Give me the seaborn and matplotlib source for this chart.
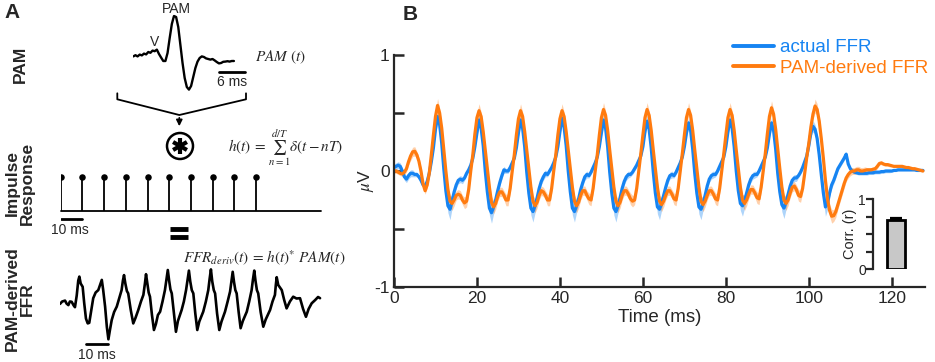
import matplotlib
matplotlib.use("Agg")
import matplotlib.pyplot as plt
import numpy as np
import pandas as pd
import seaborn as sns


FIG_W, FIG_H = 935, 362
BLUE = "#1684F2"
ORANGE = "#FF7B0F"

# ---------------- panel B data: grand-average FFRs (uV), every 0.5 ms ----------------
ffr_time_ms = np.arange(0, 128, 0.5)

actual_ffr = [
    0.03, 0.04, 0.05, 0.04, 0.00, -0.05, -0.07, -0.04, -0.02, -0.02, -0.03, -0.03, -0.05, -0.08, -0.12, -0.13, -0.09, -0.02, 0.08, 0.20,
    0.36, 0.47, 0.40, 0.24, 0.02, -0.17, -0.30, -0.33, -0.26, -0.18, -0.12, -0.08, -0.07, -0.08, -0.06, -0.02, 0.01, 0.05, 0.11, 0.21,
    0.33, 0.44, 0.37, 0.22, 0.00, -0.18, -0.32, -0.36, -0.31, -0.25, -0.17, -0.10, -0.04, 0.01, 0.00, 0.00, 0.03, 0.07, 0.11, 0.20,
    0.33, 0.44, 0.37, 0.21, -0.01, -0.19, -0.32, -0.35, -0.30, -0.23, -0.15, -0.09, -0.05, -0.02, -0.03, 0.00, 0.03, 0.07, 0.12, 0.21,
    0.34, 0.455, 0.38, 0.22, 0.00, -0.18, -0.32, -0.35, -0.30, -0.24, -0.16, -0.10, -0.05, -0.03, -0.04, -0.01, 0.03, 0.07, 0.12, 0.21,
    0.33, 0.44, 0.37, 0.21, -0.01, -0.19, -0.32, -0.35, -0.30, -0.23, -0.15, -0.09, -0.05, -0.03, -0.03, -0.01, 0.02, 0.05, 0.09, 0.13,
    0.21, 0.34, 0.43, 0.36, 0.20, -0.01, -0.19, -0.31, -0.33, -0.28, -0.21, -0.14, -0.08, -0.04, -0.03, -0.04, -0.01, 0.03, 0.07, 0.12,
    0.21, 0.33, 0.415, 0.35, 0.19, -0.02, -0.19, -0.31, -0.33, -0.28, -0.21, -0.13, -0.07, -0.04, -0.03, -0.03, 0.00, 0.04, 0.08, 0.12,
    0.21, 0.34, 0.44, 0.37, 0.21, 0.00, -0.17, -0.28, -0.30, -0.26, -0.19, -0.12, -0.07, -0.04, -0.03, -0.03, 0.00, 0.04, 0.08, 0.12,
    0.20, 0.32, 0.415, 0.35, 0.19, -0.02, -0.18, -0.29, -0.32, -0.27, -0.20, -0.13, -0.08, -0.06, -0.06, -0.04, -0.01, 0.03, 0.08, 0.13,
    0.22, 0.33, 0.385, 0.36, 0.28, 0.14, -0.03, -0.19, -0.31, -0.28, -0.19, -0.12, -0.08, -0.03, 0.02, 0.05, 0.08, 0.11, 0.145, 0.06,
    0.02, 0.00, -0.01, -0.015, -0.02, -0.02, -0.02, -0.02, -0.02, -0.015, -0.015, -0.015, -0.01, -0.01, -0.01, -0.005, -0.005, 0.00, 0.00, 0.00,
    0.00, 0.005, 0.005, 0.01, 0.01, 0.01, 0.01, 0.01, 0.01, 0.01, 0.01, 0.01, 0.005, 0.005, 0.005, 0.005,
]

actual_sem = [
    0.03, 0.03, 0.03, 0.03, 0.03, 0.03, 0.03, 0.03, 0.03, 0.03, 0.02, 0.02, 0.02, 0.02, 0.02, 0.02, 0.02, 0.02, 0.02, 0.03,
    0.03, 0.05, 0.04, 0.03, 0.03, 0.04, 0.06, 0.09, 0.06, 0.03, 0.03, 0.03, 0.03, 0.03, 0.02, 0.02, 0.02, 0.02, 0.02, 0.02,
    0.03, 0.05, 0.04, 0.03, 0.03, 0.04, 0.06, 0.09, 0.06, 0.03, 0.03, 0.03, 0.03, 0.03, 0.02, 0.02, 0.02, 0.02, 0.02, 0.02,
    0.03, 0.05, 0.04, 0.03, 0.03, 0.04, 0.06, 0.09, 0.06, 0.03, 0.03, 0.03, 0.03, 0.03, 0.02, 0.02, 0.02, 0.02, 0.02, 0.02,
    0.03, 0.05, 0.04, 0.03, 0.03, 0.04, 0.06, 0.09, 0.06, 0.03, 0.03, 0.03, 0.03, 0.03, 0.02, 0.02, 0.02, 0.02, 0.02, 0.02,
    0.03, 0.05, 0.04, 0.03, 0.03, 0.04, 0.06, 0.09, 0.06, 0.03, 0.03, 0.03, 0.03, 0.03, 0.02, 0.02, 0.02, 0.02, 0.02, 0.02,
    0.02, 0.03, 0.05, 0.04, 0.03, 0.03, 0.04, 0.06, 0.09, 0.06, 0.03, 0.03, 0.03, 0.03, 0.03, 0.02, 0.02, 0.02, 0.02, 0.02,
    0.02, 0.03, 0.05, 0.04, 0.03, 0.03, 0.04, 0.06, 0.09, 0.06, 0.03, 0.03, 0.03, 0.03, 0.03, 0.02, 0.02, 0.02, 0.02, 0.02,
    0.02, 0.03, 0.05, 0.04, 0.03, 0.03, 0.04, 0.06, 0.09, 0.06, 0.03, 0.03, 0.03, 0.03, 0.03, 0.02, 0.02, 0.02, 0.02, 0.02,
    0.02, 0.03, 0.05, 0.04, 0.03, 0.03, 0.04, 0.06, 0.09, 0.06, 0.03, 0.03, 0.03, 0.03, 0.03, 0.02, 0.02, 0.02, 0.02, 0.02,
    0.02, 0.03, 0.05, 0.04, 0.03, 0.03, 0.04, 0.06, 0.08, 0.05, 0.03, 0.03, 0.03, 0.03, 0.02, 0.02, 0.02, 0.02, 0.02, 0.02,
    0.015, 0.015, 0.015, 0.015, 0.015, 0.015, 0.015, 0.015, 0.015, 0.015, 0.015, 0.015, 0.015, 0.015, 0.015, 0.015, 0.015, 0.015, 0.015, 0.015,
    0.01, 0.01, 0.01, 0.01, 0.01, 0.01, 0.01, 0.01, 0.01, 0.01, 0.01, 0.01, 0.01, 0.01, 0.01, 0.01,
]

pam_derived_ffr = [
    0.00, 0.00, -0.01, -0.02, -0.025, -0.01, 0.02, 0.08, 0.13, 0.165, 0.17, 0.14, 0.085, 0.00, -0.11, -0.17, -0.12, -0.02, 0.14, 0.31,
    0.47, 0.565, 0.50, 0.37, 0.18, 0.00, -0.16, -0.26, -0.28, -0.25, -0.21, -0.20, -0.21, -0.25, -0.275, -0.26, -0.16, 0.00, 0.14, 0.32,
    0.46, 0.52, 0.47, 0.34, 0.18, 0.02, -0.14, -0.27, -0.31, -0.28, -0.22, -0.18, -0.18, -0.21, -0.25, -0.25, -0.15, 0.00, 0.14, 0.31,
    0.45, 0.52, 0.47, 0.34, 0.18, 0.02, -0.14, -0.26, -0.30, -0.27, -0.21, -0.17, -0.18, -0.21, -0.25, -0.25, -0.15, 0.00, 0.14, 0.31,
    0.45, 0.52, 0.47, 0.34, 0.18, 0.02, -0.14, -0.26, -0.30, -0.27, -0.21, -0.17, -0.17, -0.21, -0.24, -0.25, -0.15, 0.00, 0.14, 0.31,
    0.46, 0.53, 0.48, 0.35, 0.18, 0.02, -0.14, -0.26, -0.30, -0.27, -0.21, -0.17, -0.17, -0.20, -0.24, -0.26, -0.25, -0.15, 0.00, 0.15,
    0.31, 0.46, 0.53, 0.48, 0.35, 0.18, 0.02, -0.14, -0.26, -0.29, -0.26, -0.21, -0.17, -0.17, -0.20, -0.24, -0.25, -0.15, 0.00, 0.15,
    0.31, 0.46, 0.53, 0.48, 0.35, 0.18, 0.02, -0.14, -0.26, -0.29, -0.26, -0.21, -0.17, -0.17, -0.20, -0.24, -0.25, -0.15, 0.00, 0.15,
    0.31, 0.46, 0.53, 0.48, 0.35, 0.18, 0.02, -0.14, -0.25, -0.28, -0.25, -0.20, -0.16, -0.16, -0.19, -0.23, -0.24, -0.14, 0.00, 0.15,
    0.32, 0.47, 0.545, 0.49, 0.36, 0.19, 0.02, -0.14, -0.25, -0.28, -0.25, -0.19, -0.14, -0.13, -0.16, -0.21, -0.22, -0.15, -0.02, 0.12,
    0.24, 0.38, 0.49, 0.56, 0.53, 0.43, 0.28, 0.11, -0.08, -0.24, -0.34, -0.39, -0.385, -0.35, -0.29, -0.23, -0.17, -0.11, -0.06, -0.03,
    -0.01, 0.00, 0.00, 0.01, 0.01, 0.00, 0.00, 0.005, 0.01, 0.01, 0.01, 0.015, 0.02, 0.04, 0.065, 0.07, 0.06, 0.055, 0.055, 0.05,
    0.045, 0.04, 0.04, 0.04, 0.04, 0.04, 0.035, 0.03, 0.03, 0.025, 0.02, 0.02, 0.015, 0.01, 0.005, 0.00,
]

pam_derived_sem = [
    0.02, 0.02, 0.02, 0.02, 0.02, 0.02, 0.03, 0.03, 0.04, 0.04, 0.04, 0.03, 0.03, 0.03, 0.03, 0.03, 0.03, 0.03, 0.03, 0.03,
    0.04, 0.06, 0.04, 0.03, 0.03, 0.03, 0.04, 0.05, 0.06, 0.05, 0.04, 0.04, 0.04, 0.04, 0.05, 0.05, 0.04, 0.03, 0.03, 0.03,
    0.04, 0.06, 0.04, 0.03, 0.03, 0.03, 0.04, 0.05, 0.06, 0.05, 0.04, 0.04, 0.04, 0.04, 0.05, 0.05, 0.04, 0.03, 0.03, 0.03,
    0.04, 0.06, 0.04, 0.03, 0.03, 0.03, 0.04, 0.05, 0.06, 0.05, 0.04, 0.04, 0.04, 0.04, 0.05, 0.05, 0.04, 0.03, 0.03, 0.03,
    0.04, 0.06, 0.04, 0.03, 0.03, 0.03, 0.04, 0.05, 0.06, 0.05, 0.04, 0.04, 0.04, 0.04, 0.05, 0.05, 0.04, 0.03, 0.03, 0.03,
    0.04, 0.06, 0.04, 0.03, 0.03, 0.03, 0.04, 0.05, 0.06, 0.05, 0.04, 0.04, 0.04, 0.04, 0.05, 0.05, 0.04, 0.03, 0.03, 0.03,
    0.03, 0.04, 0.06, 0.04, 0.03, 0.03, 0.03, 0.04, 0.05, 0.06, 0.05, 0.04, 0.04, 0.04, 0.04, 0.05, 0.05, 0.04, 0.03, 0.03,
    0.03, 0.04, 0.06, 0.04, 0.03, 0.03, 0.03, 0.04, 0.05, 0.06, 0.05, 0.04, 0.04, 0.04, 0.04, 0.05, 0.05, 0.04, 0.03, 0.03,
    0.03, 0.04, 0.06, 0.04, 0.03, 0.03, 0.03, 0.04, 0.05, 0.06, 0.05, 0.04, 0.04, 0.04, 0.04, 0.05, 0.05, 0.04, 0.03, 0.03,
    0.03, 0.04, 0.06, 0.04, 0.03, 0.03, 0.03, 0.04, 0.05, 0.06, 0.05, 0.04, 0.04, 0.04, 0.04, 0.05, 0.05, 0.04, 0.03, 0.03,
    0.03, 0.03, 0.04, 0.06, 0.05, 0.04, 0.03, 0.03, 0.04, 0.05, 0.05, 0.06, 0.05, 0.05, 0.04, 0.04, 0.04, 0.04, 0.03, 0.03,
    0.03, 0.03, 0.03, 0.03, 0.03, 0.03, 0.03, 0.03, 0.02, 0.02, 0.02, 0.02, 0.02, 0.02, 0.015, 0.015, 0.015, 0.015, 0.015, 0.015,
    0.01, 0.01, 0.01, 0.01, 0.01, 0.01, 0.01, 0.01, 0.01, 0.01, 0.01, 0.01, 0.01, 0.01, 0.01, 0.01,
]

series_names = ["actual FFR", "PAM-derived FFR"]

corr_labels = ["r"]
corr_mean = [0.70]
corr_err = [0.04]

# ---------------- panel A data (schematic traces) ----------------
pam_time_ms = np.arange(0, 24, 0.5)
pam_trace = [
    -0.01, 0.02, -0.01, 0.035, 0.015, 0.06, 0.04, 0.10, 0.08, 0.135, 0.12, 0.16,
    0.05, -0.04, -0.125, -0.125, 0.075, 0.45, 0.80, 1.00, 0.975, 0.725, 0.275, -0.175,
    -0.55, -0.775, -0.84, -0.75, -0.525, -0.30, -0.14, -0.05, -0.01, -0.025, -0.06, -0.075,
    -0.09, -0.075, -0.11, -0.15, -0.185, -0.175, -0.145, -0.14, -0.13, -0.14, -0.125, -0.125,
]

impulse_times_ms = [0, 10, 20, 30, 40, 50, 60, 70, 80, 90]
impulse_heights = [1, 1, 1, 1, 1, 1, 1, 1, 1, 1]

derived_time_ms = [
    0.0, 1.0, 2.3, 3.0, 3.8, 4.5, 5.3, 6.2, 6.8, 7.6, 8.3, 8.8, 9.4, 10.3, 11.0, 11.8, 12.6, 13.3,
    14.2, 15.1, 16.2, 17.4, 18.3, 19.0, 19.6, 20.5, 21.3, 22.0, 22.7, 23.5, 24.6, 25.8, 27.0,
    28.0, 28.6, 29.1, 29.7, 30.4, 31.0, 32.2, 33.3, 34.3, 35.6, 36.8, 37.9, 38.6, 39.1, 39.7,
    40.3, 40.9, 41.8, 42.7, 43.6, 44.5, 45.5, 46.6, 47.7, 48.4, 49.0, 49.6, 50.2, 50.8, 51.8,
    52.7, 53.6, 55.3, 56.3, 57.3, 58.0, 58.6, 59.2, 59.9, 60.6, 61.5, 62.4, 63.3, 65.1, 66.3,
    67.4, 68.0, 68.6, 69.2, 69.9, 70.5, 71.4, 72.4, 73.4, 75.0, 76.2, 77.3, 77.9, 78.5, 79.1,
    79.7, 80.3, 81.2, 82.1, 83.1, 84.9, 86.0, 87.1, 87.7, 88.3, 88.9, 89.5, 90.1, 91.2, 92.4,
    93.5, 95.5, 96.6, 97.7, 98.1, 98.5, 99.2, 100.8, 101.9, 103.0, 104.5, 106.0, 107.5, 109.1,
    110.5, 111.8, 113.0, 114.4, 116.0, 117.3, 118.2,
]
derived_trace = [
    -0.13, -0.05, -0.02, -0.12, -0.17, -0.05, -0.06, -0.18, -0.24, 0.15, 0.65, 0.78, 0.55, 0.44, -0.10, -0.62, -0.78, -0.76,
    -0.35, 0.06, 0.25, 0.33, 0.52, 0.67, 0.35, -0.22, -0.90, -1.31, -1.00, -0.67, -0.40, -0.22, 0.08,
    0.33, 0.65, 0.83, 0.55, 0.30, 0.22, -0.35, -0.78, -0.60, -0.33, -0.05, 0.17, 0.55, 0.86, 0.55,
    0.25, 0.11, -0.50, -1.00, -0.80, -0.50, -0.39, -0.05, 0.33, 0.70, 1.00, 0.65, 0.35, 0.22, -0.45,
    -1.06, -0.70, -0.33, -0.05, 0.33, 0.68, 0.98, 0.62, 0.33, 0.22, -0.45, -1.00, -0.72, -0.39, -0.05,
    0.33, 0.70, 1.02, 0.62, 0.33, 0.22, -0.45, -1.00, -0.72, -0.39, -0.05, 0.28, 0.62, 0.94, 0.60,
    0.33, 0.22, -0.40, -0.94, -0.70, -0.39, -0.05, 0.33, 0.68, 0.98, 0.62, 0.33, 0.22, -0.40, -0.89,
    -0.65, -0.33, -0.05, 0.17, 0.50, 0.76, 0.50, 0.33, 0.00, -0.28, -0.05, 0.11, 0.05, 0.06,
    -0.30, -0.56, -0.30, -0.11, 0.00, 0.10, 0.06,
]


def px_rect(left, top, width, height):
    return [left / FIG_W, 1 - (top + height) / FIG_H, width / FIG_W, height / FIG_H]


def draw_panel_b(fig):
    ax = fig.add_axes(px_rect(394, 55, 531, 232))

    ax.fill_between(ffr_time_ms, np.array(actual_ffr) - actual_sem, np.array(actual_ffr) + actual_sem,
                    color=BLUE, alpha=0.35, lw=0)
    ax.fill_between(ffr_time_ms, np.array(pam_derived_ffr) - pam_derived_sem,
                    np.array(pam_derived_ffr) + pam_derived_sem, color=ORANGE, alpha=0.35, lw=0)

    df = pd.DataFrame({
        "time_ms": np.concatenate([ffr_time_ms, ffr_time_ms]),
        "uV": actual_ffr + pam_derived_ffr,
        "series": [series_names[0]] * len(actual_ffr) + [series_names[1]] * len(pam_derived_ffr),
    })
    sns.lineplot(data=df, x="time_ms", y="uV", hue="series", hue_order=series_names,
                 palette=[BLUE, ORANGE], lw=2.3, ax=ax, errorbar=None)

    ax.set_xlim(0, 128)
    ax.set_ylim(-1, 1)
    ax.set_xticks([0, 20, 40, 60, 80, 100, 120])
    ax.set_yticks([-1, -0.5, 0, 0.5, 1])
    ax.set_yticklabels(["-1", "", "0", "", "1"])
    ax.tick_params(direction="in", length=7, width=1.8, labelsize=12.5, pad=3,
                   bottom=True, left=True)
    ax.set_xlabel("Time (ms)", fontsize=13.5, labelpad=2)
    ax.set_ylabel("")
    sns.despine(ax=ax)
    for side in ["left", "bottom"]:
        ax.spines[side].set_linewidth(1.6)

    leg = ax.legend(loc="upper left", bbox_to_anchor=(733 / FIG_W, 1 - 39 / FIG_H),
                    bbox_transform=fig.transFigure, frameon=False, fontsize=13.5,
                    handlelength=2.2, handletextpad=0.3, labelspacing=0.2,
                    borderpad=0, borderaxespad=0, labelcolor="linecolor")
    for line in leg.get_lines():
        line.set_linewidth(2.8)

    # correlation inset
    ax_in = fig.add_axes(px_rect(873, 199.3, 46, 70))
    sns.barplot(x=corr_labels, y=corr_mean, ax=ax_in, color="#c8c8c8",
                edgecolor="black", linewidth=2, width=0.38)
    ax_in.errorbar([0], corr_mean, yerr=[[0], corr_err], color="black",
                   capsize=4, capthick=1.6, lw=1.6)
    ax_in.set_xlim(-0.5, 0.5)
    ax_in.set_ylim(0, 1)
    ax_in.set_yticks([0, 0.25, 0.5, 0.75, 1])
    ax_in.set_yticklabels(["0", "", "", "", "1"])
    ax_in.set_xticks([])
    ax_in.tick_params(axis="y", direction="out", length=5, width=1.6, labelsize=10, pad=0,
                      left=True)
    ax_in.set_ylabel("Corr. (r)", fontsize=10.5, labelpad=1)
    ax_in.patch.set_alpha(0)
    for side in ["top", "right", "bottom"]:
        ax_in.spines[side].set_visible(False)
    ax_in.spines["left"].set_linewidth(1.6)


def draw_panel_a(fig):
    # PAM waveform
    ax_pam = fig.add_axes(px_rect(133.3, 8, 115.6, 92))
    sns.lineplot(x=pam_time_ms, y=pam_trace, ax=ax_pam, color="black", lw=1.7)
    ax_pam.plot([20.1, 26.1], [-0.4, -0.4], color="black", lw=2)
    ax_pam.text(23.1, -0.47, "6 ms", ha="center", va="top", fontsize=10)
    ax_pam.set_xlim(0, 27)
    ax_pam.set_ylim(-1.1, 1.2)
    ax_pam.axis("off")

    # impulse train
    ax_imp = fig.add_axes(px_rect(60.7, 169.9, 260.4, 61.2))
    ax_imp.vlines(impulse_times_ms, 0, impulse_heights, color="black", lw=1.3)
    sns.scatterplot(x=impulse_times_ms, y=impulse_heights, ax=ax_imp, color="black",
                    s=22, edgecolor="black", linewidth=0, zorder=3)
    ax_imp.plot([0, 120], [0, 0], color="black", lw=1.3, clip_on=False)
    ax_imp.plot([0, 10], [-0.244, -0.244], color="black", lw=2)
    ax_imp.text(4.3, -0.36, "10 ms", ha="center", va="top", fontsize=10)
    ax_imp.set_xlim(0, 120)
    ax_imp.set_ylim(-0.6, 1.2)
    ax_imp.axis("off")

    # PAM-derived FFR
    ax_der = fig.add_axes(px_rect(60, 264, 264, 96))
    sns.lineplot(x=derived_time_ms, y=derived_trace, ax=ax_der, color="black", lw=1.9,
                 sort=False)
    ax_der.plot([11.8, 21.9], [-1.48, -1.48], color="black", lw=2)
    ax_der.text(16.8, -1.6, "10 ms", ha="center", va="top", fontsize=10)
    ax_der.set_xlim(0, 120)
    ax_der.set_ylim(-2.0, 1.2)
    ax_der.axis("off")


def draw_annotations(fig):
    ax = fig.add_axes([0, 0, 1, 1], zorder=-1)
    ax.set_xlim(0, FIG_W)
    ax.set_ylim(FIG_H, 0)
    ax.axis("off")

    ax.text(4, 3, "A", fontsize=15, fontweight="bold", va="top", ha="left")
    ax.text(403, 5, "B", fontsize=15, fontweight="bold", va="top", ha="left")

    ax.text(20, 64, "PAM", rotation=90, fontsize=12.5, fontweight="bold", ha="center", va="center")
    ax.text(20, 183, "Impulse\nResponse", rotation=90, fontsize=12.5, fontweight="bold",
            ha="center", va="center", multialignment="center", linespacing=1.0)
    ax.text(20, 299, "PAM-derived\nFFR", rotation=90, fontsize=12.5, fontweight="bold",
            ha="center", va="center", multialignment="center", linespacing=1.0)

    ax.text(176, 9, "PAM", fontsize=10, ha="center", va="center")
    ax.text(155, 42, "V", fontsize=10, ha="center", va="center")
    ax.text(255, 57, r"$PAM\ (t)$", fontsize=11, ha="left", va="center")

    # bracket and arrow into the convolution sign
    ax.plot([117.3, 117.3, 179.3, 246, 246], [93.3, 99.3, 115, 99.3, 93.3], color="black", lw=1.3)
    ax.annotate("", xy=(179.3, 129), xytext=(179.3, 115),
                arrowprops=dict(arrowstyle="-|>", color="black", lw=1.2, mutation_scale=9))
    ax.add_patch(plt.Circle((180, 146), 13, fill=False, lw=1.8, color="black"))
    for angle in [90, 30, -30]:
        dx = 8 * np.cos(np.radians(angle))
        dy = 8 * np.sin(np.radians(angle))
        ax.plot([180 - dx, 180 + dx], [146 - dy, 146 + dy], color="black", lw=3,
                solid_capstyle="butt")

    ax.text(228, 148, r"$h(t)\,=\,\sum_{n=1}^{d/T}\delta(t-nT)$", fontsize=11, ha="left", va="center")

    ax.plot([170, 188], [229, 229], color="black", lw=3.5, solid_capstyle="butt")
    ax.plot([170, 188], [237, 237], color="black", lw=3.5, solid_capstyle="butt")

    ax.text(183, 258, r"$FFR_{deriv}(t)\,=\,h(t)^{*}\ PAM(t)$", fontsize=11, ha="left", va="center")

    ax.text(366, 180, r"$\mu$V", rotation=90, fontsize=12.5, ha="center", va="center")


def main():
    sns.set_theme(style="ticks")
    plt.rcParams["font.family"] = ["Liberation Sans", "DejaVu Sans"]
    plt.rcParams["mathtext.fontset"] = "stix"

    fig = plt.figure(figsize=(FIG_W / 100, FIG_H / 100), dpi=100)
    draw_annotations(fig)
    draw_panel_a(fig)
    draw_panel_b(fig)
    fig.savefig("out.png", dpi=100)
    plt.close(fig)


if __name__ == "__main__":
    main()
